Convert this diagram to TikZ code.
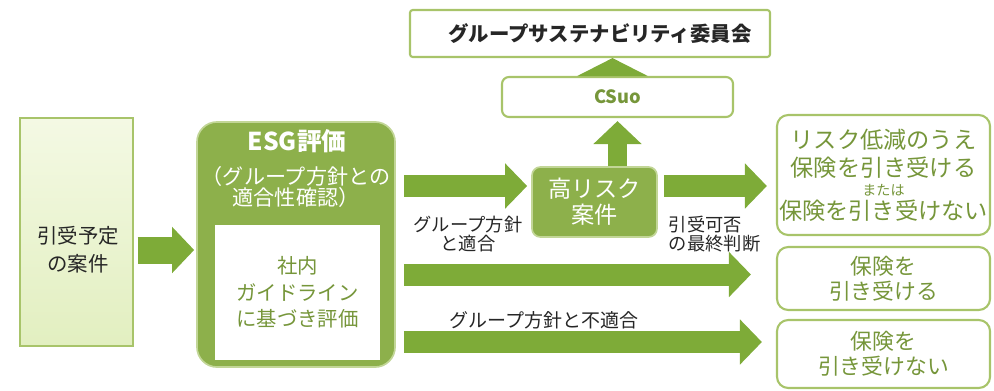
\documentclass[tikz,border=0pt]{standalone}
\usepackage{fontspec}
\setmainfont{Noto Sans CJK JP}
\usetikzlibrary{arrows.meta,positioning,calc}

\definecolor{frameGreen}{HTML}{A8C46A}
\definecolor{esgGreen}{HTML}{8DB04B}
\definecolor{textGreen}{HTML}{76963A}
\definecolor{arrowGreen}{HTML}{7EAB38}
\definecolor{caseTop}{HTML}{F4F9E4}
\definecolor{caseBottom}{HTML}{E2EFC0}

\begin{document}
\begin{tikzpicture}[x=0.025cm, y=-0.025cm,
                    every node/.style={align=center, text=black!85},
                    whitebox/.style={draw=frameGreen, line width=1.5pt, fill=white, inner sep=0pt},
                    greenbox/.style={draw=frameGreen!70!white, line width=1.2pt, fill=esgGreen, text=white, inner sep=0pt},
                    flow/.style={draw=arrowGreen, line width=0.55cm, -{Triangle[length=0.55cm, width=1.1cm]}},
                    labelfont/.style={font=\fontsize{13}{13.5}\selectfont}]
  \useasboundingbox (0,0) rectangle (994,390);

  % Define nodes
  \node[draw=frameGreen, line width=0.8pt, top color=caseTop, bottom color=caseBottom,
        minimum width=2.825cm, minimum height=5.7cm] (case) at (76.5,232) {};
  \node[font=\fontsize{14.5}{20}\selectfont] (casetext) at (78,250) {引受予定\\の案件};

  \node[greenbox, rounded corners=0.5cm, minimum width=4.95cm, minimum height=6.125cm] (esg) at (296,244.5) {};
  \node[text=white, font=\fontsize{17.5}{20}\selectfont\bfseries] (esgtitle) at (297,141) {ESG評価};
  \node[text=white, font=\fontsize{15}{15}\selectfont] (esgsub) at (296,187) {（グループ方針との\\適合性確認）};
  \node[fill=white, text=textGreen, minimum width=4.125cm, minimum height=3.375cm,
        font=\fontsize{14.5}{19}\selectfont] (guideline) at (297.5,292.5) {社内\\ガイドライン\\に基づき評価};

  \node[whitebox, rounded corners=2pt, minimum width=9cm, minimum height=1.175cm,
        font=\fontsize{14.5}{16}\selectfont\bfseries] (committee) at (590,33.5) {\hspace*{0.5cm}グループサステナビリティ委員会};
  \node[whitebox, rounded corners=5pt, minimum width=5.775cm, minimum height=1cm, text=textGreen,
        font=\fontsize{13}{15}\selectfont\bfseries] (csuo) at (617.5,97) {CSuo};
  \node[greenbox, rounded corners=6pt, minimum width=3.125cm, minimum height=1.75cm,
        font=\fontsize{16.5}{18.5}\selectfont] (highrisk) at (594.5,202) {高リスク\\案件};

  \node[whitebox, rounded corners=8pt, minimum width=5.325cm, minimum height=3cm, text=textGreen,
        font=\fontsize{16.5}{20}\selectfont] (accept1) at (883.5,175)
    {リスク低減のうえ\\保険を引き受ける\\[-6.5pt]{\fontsize{10}{12}\selectfont または}\\[-3pt]保険を引き受けない};
  \node[whitebox, rounded corners=8pt, minimum width=5.325cm, minimum height=1.575cm, text=textGreen,
        font=\fontsize{15.5}{18}\selectfont] (accept2) at (883.5,278.5) {保険を\\引き受ける};
  \node[whitebox, rounded corners=8pt, minimum width=5.325cm, minimum height=1.7cm, text=textGreen,
        font=\fontsize{15.5}{18}\selectfont] (accept3) at (883.5,354) {保険を\\引き受けない};

  \node[labelfont] (fitlabel) at (468,234) {グループ方針\\と適合};
  \node[labelfont, align=left, anchor=west] (decisionlabel) at (664,234) {引受可否\\の最終判断};
  \node[labelfont, font=\fontsize{13.5}{14}\selectfont] (unfitlabel) at (544,320) {グループ方針と不適合};

  % Define paths
  \draw[flow, line width=0.675cm, -{Triangle[length=0.55cm, width=1.125cm]},
        shorten <=0.1cm, shorten >=0.05cm] (casetext -| case.east) -- (casetext -| esg.west);
  \draw[flow, shorten <=0.2cm, shorten >=0.1cm]
    ($(esg.east |- highrisk.west)+(0,-16)$) -- ($(highrisk.west)+(0,-16)$);
  \draw[flow, shorten <=0.15cm, shorten >=0.225cm]
    ($(highrisk.east)+(0,-16)$) -- ($(highrisk.east -| accept1.west)+(0,-16)$);
  \draw[flow, line width=0.475cm, -{Triangle[length=0.575cm, width=1.175cm]}, shorten >=0.075cm]
    (highrisk.north -| csuo) -- (csuo.south);
  \draw[flow, line width=0.4cm, -{Triangle[length=0.45cm, width=1.75cm]}]
    ($(csuo.north)+(-5,0)$) -- ($(csuo.north |- committee.south)+(-5,0)$);
  \draw[flow, shorten <=0.2cm, shorten >=0.625cm]
    ($(esg.east |- accept2.west)+(0,-4)$) -- ($(accept2.west)+(0,-4)$);
  \draw[flow, shorten <=0.2cm, shorten >=0.35cm]
    ($(esg.east |- accept3.west)+(0,-12)$) -- ($(accept3.west)+(0,-12)$);

\end{tikzpicture}
\end{document}
